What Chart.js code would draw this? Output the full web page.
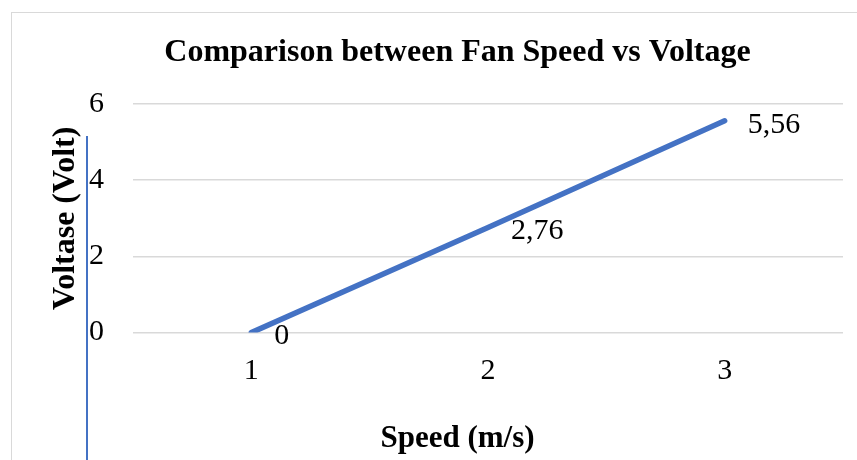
<!DOCTYPE html>
<html>
<head>
<meta charset="utf-8">
<script src="https://cdn.jsdelivr.net/npm/chart.js@4/dist/chart.umd.min.js"></script>
<style>
  html, body { margin: 0; padding: 0; background: #fff; overflow: hidden; width: 857px; height: 460px; }
  #frame { position: absolute; left: 11px; top: 12px; width: 905px; height: 470px; border: 1px solid #d9d9d9; box-sizing: border-box; }
  #wrap { position: absolute; left: 0; top: 0; width: 891px; height: 468px; }
  #rule { position: absolute; left: 86px; top: 136px; width: 2px; height: 330px; background: #4472c4; }
</style>
</head>
<body>
<div id="frame"><div id="wrap"><canvas id="c"></canvas></div></div>
<div id="rule"></div>
<script>
// Fan speed (m/s) categories and the measured voltage at each speed
const speeds = ['1', '2', '3'];
const voltages = [0, 2.76, 5.56];
// Voltage axis range and tick spacing
const voltRange = [0, 6];
const voltStep = 2;

const serif = '"Liberation Serif", "Times New Roman", Times, serif';

// Writes each point's value (decimal comma) just to the right of the point
const valueLabels = {
  id: 'valueLabels',
  afterDatasetsDraw(chart) {
    const ctx = chart.ctx;
    const meta = chart.getDatasetMeta(0);
    const data = chart.data.datasets[0].data;
    ctx.save();
    ctx.font = '30px ' + serif;
    ctx.fillStyle = '#000';
    ctx.textAlign = 'left';
    ctx.textBaseline = 'middle';
    meta.data.forEach((pt, i) => {
      const txt = String(data[i]).replace('.', ',');
      ctx.fillText(txt, pt.x + 23, pt.y + 4);
    });
    ctx.restore();
  }
};

new Chart(document.getElementById('c'), {
  type: 'line',
  data: {
    labels: speeds,
    datasets: [{
      data: voltages,
      borderColor: '#4472c4',
      borderWidth: 5.5,
      borderCapStyle: 'round',
      pointRadius: 0,
      tension: 0,
      fill: false,
      yAxisID: 'y'
    }]
  },
  options: {
    responsive: true,
    maintainAspectRatio: false,
    animation: false,
    layout: { padding: 0 },
    plugins: {
      legend: { display: false },
      tooltip: { enabled: false },
      title: {
        display: true,
        text: 'Comparison between Fan Speed vs Voltage',
        color: '#000',
        font: { family: serif, size: 32, weight: 'bold', lineHeight: 1.2 },
        padding: { top: 21, bottom: 31.6 }
      },
      // horizontal axis caption, centred under the whole chart
      subtitle: {
        display: true,
        position: 'bottom',
        text: 'Speed (m/s)',
        color: '#000',
        font: { family: serif, size: 31, weight: 'bold', lineHeight: 1.2 },
        padding: { top: 11, bottom: 23.6 }
      }
    },
    scales: {
      x: {
        type: 'category',
        offset: true,
        grid: { display: false, drawTicks: false },
        border: { display: false },
        ticks: { color: '#000', font: { family: serif, size: 30 }, padding: 21 },
        afterFit(scale) { scale.height = 76.6; }
      },
      y: {
        position: 'left',
        min: voltRange[0],
        max: voltRange[1],
        ticks: { stepSize: voltStep, color: '#000', font: { family: serif, size: 30 }, padding: 29 },
        grid: { color: '#d9d9d9', lineWidth: 1.5, drawTicks: false },
        border: { display: false },
        title: {
          display: true,
          text: 'Voltase (Volt)',
          color: '#000',
          font: { family: serif, size: 32, weight: 'bold', lineHeight: 1.2 },
          padding: { top: 35, bottom: 4 }
        },
        afterFit(scale) { scale.width = 121; }
      },
      // empty right-hand margin beside the plot
      margin: {
        type: 'linear',
        position: 'right',
        grid: { display: false, drawTicks: false },
        border: { display: false },
        ticks: { display: false },
        afterFit(scale) { scale.width = 60; }
      }
    }
  },
  plugins: [valueLabels]
});
</script>
</body>
</html>
